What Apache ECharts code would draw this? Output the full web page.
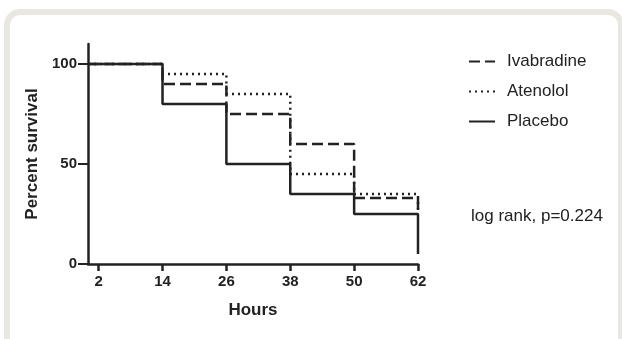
<!DOCTYPE html>
<html>
<head>
<meta charset="utf-8">
<script src="https://cdn.jsdelivr.net/npm/echarts@6/dist/echarts.min.js"></script>
<style>
  html, body { margin: 0; padding: 0; background: #fff; overflow: hidden; }
  #frame {
    position: absolute; left: 4px; top: 9px; width: 620px; height: 360px;
    border: 6px solid #e9e7e1; border-radius: 16px; box-sizing: border-box;
  }
  #chart { position: absolute; left: 0; top: 0; width: 622px; height: 339px; }
</style>
</head>
<body>
<div id="frame"></div>
<div id="chart"></div>
<script>
// hours at which survival changes, and percent survival after each change
const hours = [0, 14, 26, 38, 50, 62];
const ivabradine = [100, 90, 75, 60, 33, 25];
const atenolol = [100, 95, 85, 45, 35, 25];
const placebo = [100, 80, 50, 35, 25, 5];
const xTicks = [2, 14, 26, 38, 50, 62];
const yTicks = [0, 50, 100];

const pairs = vals => hours.map((h, i) => [h, vals[i]]);

const chart = echarts.init(document.getElementById('chart'));
const ink = '#222';
const font = 'Arial, "Liberation Sans", sans-serif';

const option = {
  backgroundColor: 'transparent',
  animation: false,
  title: {
    text: 'log rank, p=0.224',
    left: 466,
    top: 203,
    textStyle: { color: ink, fontSize: 17, fontWeight: 'normal', fontFamily: font },
  },
  legend: {
    orient: 'vertical',
    left: 463,
    top: 48,
    itemWidth: 26,
    itemHeight: 14,
    itemGap: 13,
    itemStyle: { opacity: 0 },
    textStyle: { color: ink, fontSize: 17, fontFamily: font, padding: [0, 0, 0, 7] },
    data: ['Ivabradine', 'Atenolol', 'Placebo'],
  },
  grid: { left: 88, right: 204, top: 44, bottom: 75 },
  xAxis: {
    type: 'value',
    min: 0,
    max: 62,
    name: 'Hours',
    nameLocation: 'middle',
    nameGap: 38,
    nameTextStyle: { color: ink, fontSize: 17, fontWeight: 'bold', fontFamily: font },
    axisLine: { lineStyle: { color: ink, width: 2.5 } },
    axisTick: { customValues: xTicks, length: 7, lineStyle: { color: ink, width: 2.5 } },
    axisLabel: { customValues: xTicks, color: ink, fontSize: 15, fontWeight: 'bold', fontFamily: font, margin: 10 },
    splitLine: { show: false },
  },
  yAxis: {
    type: 'value',
    min: 0,
    max: 110,
    name: 'Percent survival',
    nameLocation: 'middle',
    nameGap: 47,
    nameTextStyle: { color: ink, fontSize: 17, fontWeight: 'bold', fontFamily: font },
    axisLine: { show: true, lineStyle: { color: ink, width: 2.5 } },
    axisTick: { show: true, customValues: yTicks, length: 10, lineStyle: { color: ink, width: 2 } },
    axisLabel: { customValues: yTicks, color: ink, fontSize: 15, fontWeight: 'bold', fontFamily: font, margin: 11 },
    splitLine: { show: false },
  },
  series: [
    {
      name: 'Ivabradine',
      type: 'line',
      step: 'end',
      symbol: 'none',
      z: 3,
      lineStyle: { color: ink, width: 2.5, type: [11, 5] },
      itemStyle: { color: ink },
      data: pairs(ivabradine),
    },
    {
      name: 'Atenolol',
      type: 'line',
      step: 'end',
      symbol: 'none',
      z: 2,
      lineStyle: { color: ink, width: 2.5, type: [2, 4] },
      itemStyle: { color: ink },
      data: pairs(atenolol),
    },
    {
      name: 'Placebo',
      type: 'line',
      step: 'end',
      symbol: 'none',
      z: 4,
      lineStyle: { color: ink, width: 2.5 },
      itemStyle: { color: ink },
      data: pairs(placebo),
    },
  ],
};

chart.setOption(option);
window.addEventListener('resize', () => chart.resize());
</script>
</body>
</html>
